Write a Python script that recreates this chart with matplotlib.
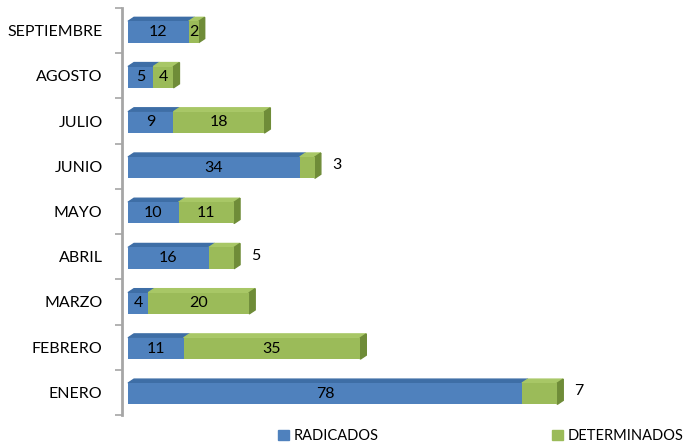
import numpy as np
import matplotlib.pyplot as plt
from matplotlib.patches import Polygon, Patch

plt.rcParams['font.family'] = ['Lato', 'DejaVu Sans']

months = ["ENERO", "FEBRERO", "MARZO", "ABRIL", "MAYO", "JUNIO", "JULIO", "AGOSTO", "SEPTIEMBRE"]
radicados = [78, 11, 4, 16, 10, 34, 9, 5, 12]
determinados = [7, 35, 20, 5, 11, 3, 18, 4, 2]
outside = ["ENERO", "ABRIL", "JUNIO"]  # green label drawn beside the bar

BLUE, BLUE_TOP = "#4F81BD", "#3E6EA6"
GREEN, GREEN_TOP, GREEN_SIDE = "#9BBB59", "#A8C766", "#6F8C38"
FS = 11.5

W, H = 6.95, 4.48
fig = plt.figure(figsize=(W, H), dpi=100, facecolor="white")
ax = fig.add_axes([122/695, 1-415/448, (690-122)/695, (415-8)/448])

xmin, xmax = -6/5.05, (690-128)/5.05
ax.set_xlim(xmin, xmax)
ax.set_ylim(-0.5, len(months)-0.5)

# depth of the fake 3d effect, in data units
ax_w = (690-122)
ax_h = (415-8)
dx = 6 * (xmax-xmin)/ax_w
dy = 4 * len(months)/ax_h
h = 0.47

y = np.arange(len(months))
for i in range(len(months)):
    c = y[i] - 0.03
    segs = [(0, radicados[i], BLUE, BLUE_TOP), (radicados[i], determinados[i], GREEN, GREEN_TOP)]
    for l, w, col, top in segs:
        ax.barh(c, w, left=l, height=h, color=col, zorder=3)
        ax.add_patch(Polygon([(l, c+h/2), (l+w, c+h/2), (l+w+dx, c+h/2+dy), (l+dx, c+h/2+dy)],
                             closed=True, color=top, zorder=2))
    L = radicados[i] + determinados[i]
    ax.add_patch(Polygon([(L, c-h/2), (L, c+h/2), (L+dx, c+h/2+dy), (L+dx, c-h/2+dy)],
                         closed=True, color=GREEN_SIDE, zorder=2))
    ax.text(radicados[i]/2, c, str(radicados[i]), ha="center", va="center", fontsize=FS, zorder=5)
    if months[i] in outside:
        ax.text(L + dx + 2.2, c + 0.05, str(determinados[i]), ha="left", va="center", fontsize=FS, zorder=5)
    else:
        ax.text(radicados[i] + determinados[i]/2, c, str(determinados[i]), ha="center", va="center",
                fontsize=FS, zorder=5)

ax.set_yticks(y)
ax.set_yticklabels(months, fontsize=FS)
ax.set_yticks(np.arange(-0.5, len(months)), minor=True)
ax.tick_params(axis="y", which="major", length=0, pad=14)
ax.tick_params(axis="y", which="minor", length=5, width=1.2, color="#A6A6A6", direction="out")
ax.set_xticks([])
for s in ["top", "right", "bottom"]:
    ax.spines[s].set_visible(False)
ax.spines["left"].set_color("#A6A6A6")
ax.spines["left"].set_linewidth(2)

handles = [Patch(color=BLUE, label="RADICADOS"), Patch(color=GREEN, label="DETERMINADOS")]
fig.legend(handles=handles, loc="center left", bbox_to_anchor=(274/695, 1-436/448), ncol=2, frameon=False,
           fontsize=10.5, handlelength=0.75, handleheight=0.75, handletextpad=0.3, columnspacing=11.9,
           borderaxespad=0, borderpad=0.3)

plt.savefig("out.png", dpi=100, facecolor="white")
